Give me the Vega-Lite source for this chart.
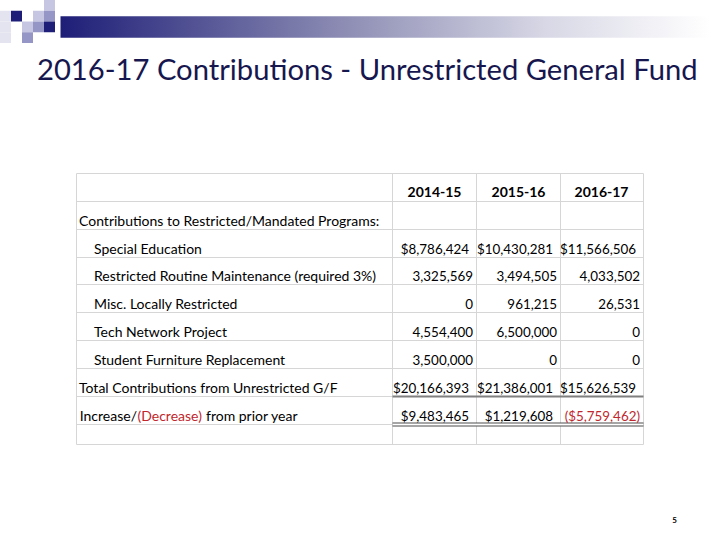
{
  "$schema": "https://vega.github.io/schema/vega-lite/v6.json",
  "width": 720,
  "height": 540,
  "padding": 0,
  "autosize": {"type": "none"},
  "background": "white",
  "title": {
    "text": "2016-17 Contributions - Unrestricted General Fund",
    "anchor": "start",
    "frame": "group",
    "orient": "top",
    "offset": 0,
    "dx": 37,
    "dy": 109,
    "baseline": "alphabetic",
    "font": "Lato",
    "fontSize": 29.2,
    "fontWeight": "normal",
    "color": "#17174f"
  },
  "datasets": {
    "squares": [
      {"gx": 0, "gy": 1, "tone": "pale"},
      {"gx": 0, "gy": 2, "tone": "pale"},
      {"gx": 0, "gy": 3, "tone": "pale"},
      {"gx": 1, "gy": 1, "tone": "dark"},
      {"gx": 3, "gy": 1, "tone": "light"},
      {"gx": 4, "gy": 0, "tone": "light"},
      {"gx": 4, "gy": 1, "tone": "medium"},
      {"gx": 2, "gy": 2, "tone": "light"},
      {"gx": 3, "gy": 2, "tone": "medium"},
      {"gx": 2, "gy": 3, "tone": "medium"},
      {"gx": 4, "gy": 2, "tone": "dark"}
    ],
    "gridRows": [{"b": 0}, {"b": 1}, {"b": 2}, {"b": 3}, {"b": 4}, {"b": 5}, {"b": 6}, {"b": 7}, {"b": 8}, {"b": 9}, {"b": 10}],
    "gridCols": [{"c": 0}, {"c": 1}, {"c": 2}, {"c": 3}, {"c": 4}],
    "items": [
      {"row": 2, "item": "Contributions to Restricted/Mandated Programs:", "level": 0},
      {"row": 3, "item": "Special Education", "level": 1},
      {"row": 4, "item": "Restricted Routine Maintenance (required 3%)", "level": 1},
      {"row": 5, "item": "Misc. Locally Restricted", "level": 1},
      {"row": 6, "item": "Tech Network Project", "level": 1},
      {"row": 7, "item": "Student Furniture Replacement", "level": 1},
      {"row": 8, "item": "Total Contributions from Unrestricted G/F", "level": 0}
    ],
    "itemParts": [
      {"row": 9, "part": 1, "item": "Increase/"},
      {"row": 9, "part": 2, "item": "(Decrease)"},
      {"row": 9, "part": 3, "item": "from prior year"}
    ],
    "years": [
      {"year": "2014-15", "col": 2},
      {"year": "2015-16", "col": 3},
      {"year": "2016-17", "col": 4}
    ],
    "amounts": [
      {"row": 3, "year": "2014-15", "amount": 8786424, "currency": true},
      {"row": 3, "year": "2015-16", "amount": 10430281, "currency": true},
      {"row": 3, "year": "2016-17", "amount": 11566506, "currency": true},
      {"row": 4, "year": "2014-15", "amount": 3325569, "currency": false},
      {"row": 4, "year": "2015-16", "amount": 3494505, "currency": false},
      {"row": 4, "year": "2016-17", "amount": 4033502, "currency": false},
      {"row": 5, "year": "2014-15", "amount": 0, "currency": false},
      {"row": 5, "year": "2015-16", "amount": 961215, "currency": false},
      {"row": 5, "year": "2016-17", "amount": 26531, "currency": false},
      {"row": 6, "year": "2014-15", "amount": 4554400, "currency": false},
      {"row": 6, "year": "2015-16", "amount": 6500000, "currency": false},
      {"row": 6, "year": "2016-17", "amount": 0, "currency": false},
      {"row": 7, "year": "2014-15", "amount": 3500000, "currency": false},
      {"row": 7, "year": "2015-16", "amount": 0, "currency": false},
      {"row": 7, "year": "2016-17", "amount": 0, "currency": false},
      {"row": 8, "year": "2014-15", "amount": 20166393, "currency": true},
      {"row": 8, "year": "2015-16", "amount": 21386001, "currency": true},
      {"row": 8, "year": "2016-17", "amount": 15626539, "currency": true},
      {"row": 9, "year": "2014-15", "amount": 9483465, "currency": true},
      {"row": 9, "year": "2015-16", "amount": 1219608, "currency": true},
      {"row": 9, "year": "2016-17", "amount": -5759462, "currency": true}
    ],
    "page": [{"num": "5"}]
  },
  "layer": [
    {
      "layer": [
        {
          "data": {"name": "squares"},
          "mark": {"type": "rect"},
          "encoding": {
            "x": {"field": "gx", "type": "ordinal", "scale": {"type": "band", "domain": [0,1,2,3,4,5,6,7,8,9,10,11,12,13,14,15,16,17,18,19,20,21,22,23,24,25,26,27,28,29,30,31,32,33,34,35,36,37,38,39,40,41,42,43,44,45,46,47,48,49,50,51,52,53,54,55,56,57,58,59,60,61,62,63,64], "range": [0, 715], "paddingInner": 0, "paddingOuter": 0}},
            "y": {"field": "gy", "type": "ordinal", "scale": {"type": "band", "domain": [0, 1, 2, 3], "range": [0, 43], "paddingInner": 0, "paddingOuter": 0}},
            "color": {"field": "tone", "type": "nominal", "legend": null, "scale": {"domain": ["pale", "light", "medium", "dark"], "range": ["#e4e4f0", "#c6c6e2", "#9696c6", "#1e1e78"]}}
          }
        },
        {
          "data": {"values": [{}]},
          "mark": {
            "type": "rect",
            "fill": {
              "gradient": "linear", "x1": 0, "y1": 0, "x2": 1, "y2": 0,
              "stops": [
                {"offset": 0, "color": "#1e1e78"},
                {"offset": 0.45, "color": "#9090b6"},
                {"offset": 0.75, "color": "#d8d8e6"},
                {"offset": 1, "color": "#ffffff"}
              ]
            }
          },
          "encoding": {
            "x": {"datum": 5, "type": "ordinal"},
            "x2": {"datum": 64},
            "y": {"datum": 1, "type": "ordinal"},
            "y2": {"datum": 3}
          }
        }
      ]
    },
    {
      "layer": [
        {
          "data": {"name": "gridRows"},
          "mark": {"type": "rule", "stroke": "#d6d6d6", "strokeWidth": 1},
          "encoding": {
            "y": {"field": "b", "type": "quantitative", "scale": {"domain": [0,1,2,3,4,5,6,7,8,9,10], "range": [173.5,201.5,229.5,257.5,284.5,312.5,340.5,368.5,396.5,424.5,444.5], "zero": false, "nice": false}},
            "x": {"datum": 0, "type": "quantitative", "scale": {"domain": [0,1,2,3,4], "range": [76.5,392.5,476.5,560.5,643.5], "zero": false, "nice": false}},
            "x2": {"datum": 4}
          }
        },
        {
          "data": {"name": "gridCols"},
          "mark": {"type": "rule", "stroke": "#d6d6d6", "strokeWidth": 1},
          "encoding": {
            "x": {"field": "c", "type": "quantitative"},
            "y": {"datum": 0, "type": "quantitative"},
            "y2": {"datum": 10}
          }
        },
        {
          "data": {"values": [{}]},
          "mark": {"type": "rule", "stroke": "#7f7f7f", "strokeWidth": 2},
          "encoding": {
            "y": {"datum": 8, "type": "quantitative"},
            "x": {"datum": 1, "type": "quantitative"},
            "x2": {"datum": 4}
          }
        },
        {
          "data": {"values": [{}]},
          "mark": {"type": "rule", "stroke": "#4d4d4d", "strokeWidth": 4},
          "encoding": {
            "y": {"datum": 9, "type": "quantitative"},
            "x": {"datum": 1, "type": "quantitative"},
            "x2": {"datum": 4}
          }
        },
        {
          "data": {"values": [{}]},
          "mark": {"type": "rule", "stroke": "#ffffff", "strokeWidth": 2},
          "encoding": {
            "y": {"datum": 9, "type": "quantitative"},
            "x": {"datum": 1, "type": "quantitative"},
            "x2": {"datum": 4}
          }
        },
        {
          "data": {"name": "items"},
          "transform": [{"filter": "datum.level == 0"}],
          "mark": {"type": "text", "align": "left", "baseline": "alphabetic", "dx": 2.5, "dy": -4, "color": "#000000"},
          "encoding": {
            "x": {"datum": 0, "type": "quantitative"},
            "y": {"field": "row", "type": "quantitative"},
            "text": {"field": "item"}
          }
        },
        {
          "data": {"name": "items"},
          "transform": [{"filter": "datum.level == 1"}],
          "mark": {"type": "text", "align": "left", "baseline": "alphabetic", "dx": 17.5, "dy": -4, "color": "#000000"},
          "encoding": {
            "x": {"datum": 0, "type": "quantitative"},
            "y": {"field": "row", "type": "quantitative"},
            "text": {"field": "item"}
          }
        },
        {
          "data": {"name": "itemParts"},
          "transform": [{"filter": "datum.part == 1"}],
          "mark": {"type": "text", "align": "right", "baseline": "alphabetic", "dx": 60.5, "dy": -4, "color": "#000000"},
          "encoding": {
            "x": {"datum": 0, "type": "quantitative"},
            "y": {"field": "row", "type": "quantitative"},
            "text": {"field": "item"}
          }
        },
        {
          "data": {"name": "itemParts"},
          "transform": [{"filter": "datum.part == 2"}],
          "mark": {"type": "text", "align": "left", "baseline": "alphabetic", "dx": 61, "dy": -4, "color": "#c0272d"},
          "encoding": {
            "x": {"datum": 0, "type": "quantitative"},
            "y": {"field": "row", "type": "quantitative"},
            "text": {"field": "item"}
          }
        },
        {
          "data": {"name": "itemParts"},
          "transform": [{"filter": "datum.part == 3"}],
          "mark": {"type": "text", "align": "left", "baseline": "alphabetic", "dx": 129.5, "dy": -4, "color": "#000000"},
          "encoding": {
            "x": {"datum": 0, "type": "quantitative"},
            "y": {"field": "row", "type": "quantitative"},
            "text": {"field": "item"}
          }
        },
        {
          "data": {"name": "years"},
          "mark": {"type": "text", "align": "center", "baseline": "alphabetic", "dx": -42, "dy": -4.5, "fontWeight": "bold", "color": "#000000"},
          "encoding": {
            "x": {"field": "col", "type": "quantitative"},
            "y": {"datum": 1, "type": "quantitative"},
            "text": {"field": "year"}
          }
        },
        {
          "data": {"name": "amounts"},
          "transform": [
            {"filter": "!datum.currency"},
            {"lookup": "year", "from": {"data": {"name": "years"}, "key": "year", "fields": ["col"]}}
          ],
          "mark": {"type": "text", "align": "right", "baseline": "alphabetic", "dx": -3.5, "dy": -4, "fontSize": 13.4, "color": "#000000"},
          "encoding": {
            "x": {"field": "col", "type": "quantitative"},
            "y": {"field": "row", "type": "quantitative"},
            "text": {"field": "amount", "type": "quantitative", "format": ","}
          }
        },
        {
          "data": {"name": "amounts"},
          "transform": [
            {"filter": "datum.currency && datum.amount >= 0"},
            {"lookup": "year", "from": {"data": {"name": "years"}, "key": "year", "fields": ["col"]}}
          ],
          "mark": {"type": "text", "align": "right", "baseline": "alphabetic", "dx": -7.5, "dy": -4, "fontSize": 13.4, "color": "#000000"},
          "encoding": {
            "x": {"field": "col", "type": "quantitative"},
            "y": {"field": "row", "type": "quantitative"},
            "text": {"field": "amount", "type": "quantitative", "format": "$,"}
          }
        },
        {
          "data": {"name": "amounts"},
          "transform": [
            {"filter": "datum.currency && datum.amount < 0"},
            {"lookup": "year", "from": {"data": {"name": "years"}, "key": "year", "fields": ["col"]}}
          ],
          "mark": {"type": "text", "align": "right", "baseline": "alphabetic", "dx": -3.5, "dy": -4, "fontSize": 13.4, "color": "#c0272d"},
          "encoding": {
            "x": {"field": "col", "type": "quantitative"},
            "y": {"field": "row", "type": "quantitative"},
            "text": {"field": "amount", "type": "quantitative", "format": "($,"}
          }
        },
        {
          "data": {"name": "page"},
          "mark": {"type": "text", "align": "center", "baseline": "alphabetic", "fontSize": 8, "fontWeight": "bold", "color": "#000000"},
          "encoding": {
            "x": {"datum": 4.373, "type": "quantitative"},
            "y": {"datum": 13.9, "type": "quantitative"},
            "text": {"field": "num"}
          }
        }
      ]
    }
  ],
  "resolve": {"scale": {"x": "independent", "y": "independent"}},
  "config": {
    "view": {"stroke": null},
    "axis": {"disable": true},
    "text": {"font": "Lato", "fontSize": 14}
  }
}
